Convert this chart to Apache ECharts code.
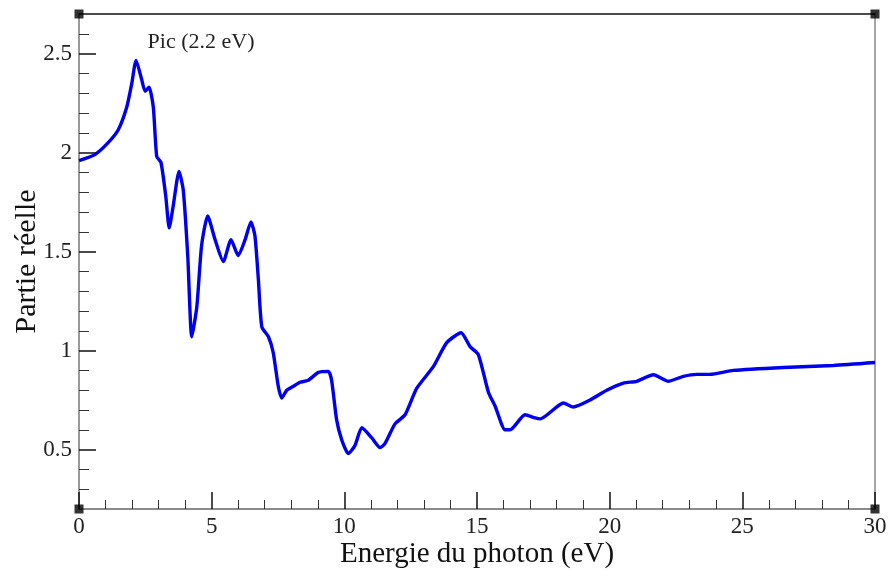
<!DOCTYPE html>
<html>
<head>
<meta charset="utf-8">
<script src="https://cdn.jsdelivr.net/npm/echarts@6/dist/echarts.min.js"></script>
<style>
html,body{margin:0;padding:0;background:#fff;}
#chart{width:891px;height:576px;}
</style>
</head>
<body>
<div id="chart"></div>
<script>
// Photon energy (eV)
var energy = [0, 0.6, 1.1, 1.48, 1.8, 1.99, 2.15, 2.36, 2.49, 2.64, 2.8, 2.93, 3.09, 3.27, 3.4, 3.55, 3.77, 3.93, 4.1, 4.25, 4.44, 4.62, 4.85, 5.13, 5.44, 5.73, 6.0, 6.26, 6.48, 6.63, 6.76, 6.89, 7.14, 7.32, 7.51, 7.64, 7.83, 8.08, 8.33, 8.64, 9.02, 9.4, 9.52, 9.71, 9.9, 10.15, 10.4, 10.66, 11.03, 11.35, 11.53, 11.91, 12.29, 12.73, 13.36, 13.86, 14.4, 14.74, 15.05, 15.43, 15.68, 16.06, 16.25, 16.81, 17.19, 17.38, 18.26, 18.63, 19.26, 19.89, 20.52, 21.02, 21.65, 22.21, 22.78, 23.28, 23.78, 24.66, 26.55, 28.43, 30];
// Real part
var realPart = [1.96, 1.99, 2.05, 2.115, 2.23, 2.35, 2.466, 2.37, 2.31, 2.33, 2.23, 1.98, 1.95, 1.78, 1.62, 1.73, 1.905, 1.81, 1.475, 1.07, 1.22, 1.53, 1.68, 1.56, 1.45, 1.56, 1.48, 1.56, 1.65, 1.58, 1.36, 1.12, 1.07, 0.99, 0.82, 0.76, 0.80, 0.82, 0.84, 0.85, 0.89, 0.895, 0.85, 0.65, 0.55, 0.48, 0.52, 0.61, 0.56, 0.51, 0.53, 0.63, 0.676, 0.81, 0.92, 1.04, 1.09, 1.02, 0.98, 0.79, 0.72, 0.60, 0.60, 0.676, 0.66, 0.655, 0.735, 0.715, 0.75, 0.80, 0.836, 0.845, 0.878, 0.845, 0.87, 0.88, 0.88, 0.90, 0.915, 0.925, 0.94];

var xMin = 0, xMax = 30, xStep = 5;
var yMin = 0.2, yMax = 2.7;
var yMajorTicks = [0.5, 1, 1.5, 2, 2.5];
var yMinorTicks = [0.3, 0.4, 0.6, 0.7, 0.8, 0.9, 1.1, 1.2, 1.3, 1.4, 1.6, 1.7, 1.8, 1.9, 2.1, 2.2, 2.3, 2.4, 2.6];
var peakLabel = 'Pic (2.2 eV)';
var peakPoint = [2.15, 2.466];
var xTitle = 'Energie du photon (eV)';
var yTitle = 'Partie réelle';

var lineData = energy.map(function (e, i) { return [e, realPart[i]]; });
var corners = [[xMin, yMin], [xMax, yMin], [xMin, yMax], [xMax, yMax]];

var FONT = '"Liberation Serif", "DejaVu Serif", serif';
var chart = echarts.init(document.getElementById('chart'));
chart.setOption({
  backgroundColor: '#ffffff',
  animation: false,
  grid: { left: 79, right: 16, top: 14, bottom: 67, containLabel: false, outerBoundsMode: 'none' },
  xAxis: [{
    type: 'value', min: xMin, max: xMax, interval: xStep, position: 'bottom',
    name: xTitle, nameLocation: 'middle', nameGap: 31, nameMoveOverlap: false,
    nameTextStyle: { fontFamily: FONT, fontSize: 29, color: '#111' },
    axisLine: { show: true, lineStyle: { color: '#666', width: 1.5 } },
    axisTick: { show: true, inside: true, length: 17, lineStyle: { color: '#111', width: 1.5 } },
    minorTick: { show: true, splitNumber: 5, length: 9, lineStyle: { color: '#333', width: 1 } },
    axisLabel: { fontFamily: FONT, fontSize: 23, color: '#222', margin: 6 },
    splitLine: { show: false }, minorSplitLine: { show: false }
  }, {
    type: 'value', min: xMin, max: xMax, position: 'top',
    axisLine: { show: true, lineStyle: { color: '#111', width: 1.5 } },
    axisTick: { show: false }, axisLabel: { show: false }, splitLine: { show: false }
  }],
  yAxis: [{
    type: 'value', min: yMin, max: yMax, position: 'left',
    name: yTitle, nameLocation: 'middle', nameGap: 37, nameMoveOverlap: false,
    nameTextStyle: { fontFamily: FONT, fontSize: 30, color: '#111' },
    axisLine: { show: true, lineStyle: { color: '#777', width: 1.5 } },
    axisTick: { show: true, inside: true, length: 17, customValues: yMajorTicks, lineStyle: { color: '#111', width: 1.5 } },
    axisLabel: { fontFamily: FONT, fontSize: 23, color: '#222', margin: 7, customValues: yMajorTicks },
    splitLine: { show: false }
  }, {
    type: 'value', min: yMin, max: yMax, position: 'left', offset: 0,
    axisLine: { show: false },
    axisTick: { show: true, inside: true, length: 10, customValues: yMinorTicks, lineStyle: { color: '#333', width: 1 } },
    axisLabel: { show: false, customValues: yMinorTicks },
    splitLine: { show: false }
  }, {
    type: 'value', min: yMin, max: yMax, position: 'right',
    axisLine: { show: true, lineStyle: { color: '#888', width: 1.5 } },
    axisTick: { show: false }, axisLabel: { show: false }, splitLine: { show: false }
  }],
  series: [{
    type: 'line', xAxisIndex: 0, yAxisIndex: 0,
    data: lineData, showSymbol: false, smooth: 0.2,
    lineStyle: { color: '#0000ee', width: 3.4 },
    markPoint: {
      symbol: 'circle', symbolSize: 0,
      data: [{ coord: peakPoint, value: peakLabel }],
      label: { show: true, formatter: peakLabel, fontFamily: FONT, fontSize: 22, color: '#222', position: 'top', offset: [65, -2] }
    }
  }, {
    type: 'scatter', xAxisIndex: 0, yAxisIndex: 0,
    data: corners, symbol: 'rect', symbolSize: 9, clip: false, z: 10,
    itemStyle: { color: '#000' }, silent: true
  }]
});
</script>
</body>
</html>
